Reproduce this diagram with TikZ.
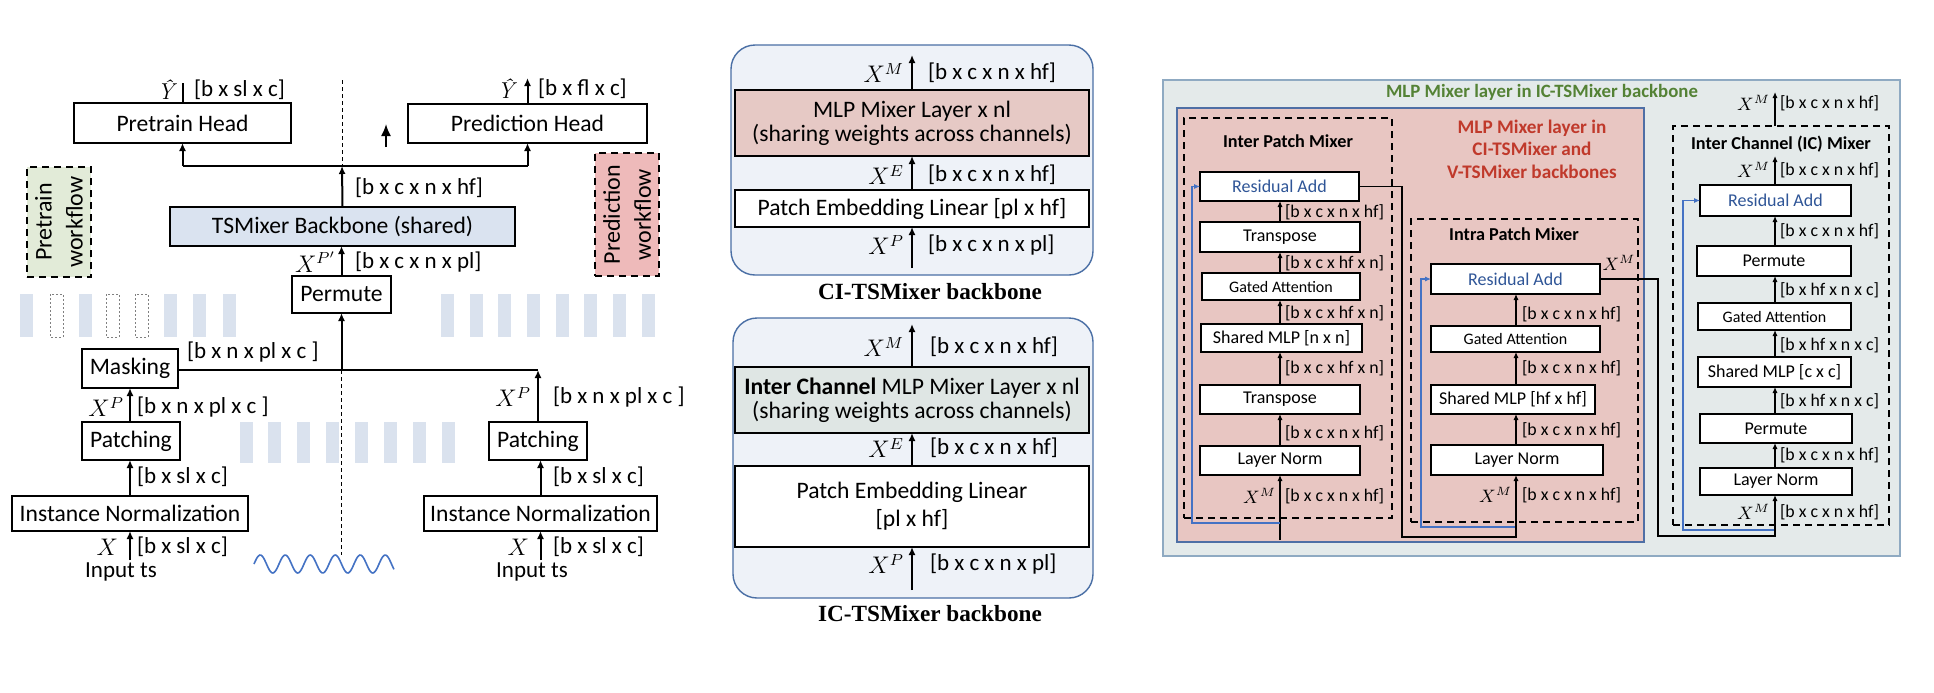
\documentclass[tikz,border=0pt]{standalone}
\usepackage{fontspec}
\setmainfont{Carlito}
\newfontfamily\capfont{Liberation Serif}
\newfontfamily\lmfont{Latin Modern Roman}
\usetikzlibrary{arrows.meta}
\definecolor{stripe}{HTML}{DAE2EE}
\definecolor{bbfill}{HTML}{DAE3F0}
\definecolor{pwgreen}{HTML}{E2EBD8}
\definecolor{pwpink}{HTML}{EEBABA}
\definecolor{cifill}{HTML}{EEF2F8}
\definecolor{ciedge}{HTML}{4A6FA5}
\definecolor{mlpfill}{HTML}{E6C9C5}
\definecolor{icfill}{HTML}{DFE6E4}
\definecolor{outerfill}{HTML}{E4EAEA}
\definecolor{outeredge}{HTML}{8FAAC2}
\definecolor{pinkfill}{HTML}{E8C6C2}
\definecolor{pinkedge}{HTML}{4F6FA5}
\definecolor{resblue}{HTML}{2F5597}
\definecolor{skipblue}{HTML}{4472C4}
\definecolor{titlegreen}{HTML}{548235}
\definecolor{titlered}{HTML}{C0392B}
\newcommand\bx[7][]{\node[#1, minimum width={(#5-#3)*0.5pt}, minimum height={(#6-#4)*0.5pt}] (#2) at ({(#3+#5)/2},{(#4+#6)/2}) {#7};}
\tikzset{
  base/.style={inner sep=0pt, outer sep=0pt},
  lbox/.style={base, draw, line width=1.2pt, fill=white, align=center, font=\fontsize{11.8}{12}\selectfont},
  rbox/.style={base, draw, line width=0.9pt, fill=white, font=\fontsize{9}{10}\selectfont},
  ga/.style={rbox, font=\fontsize{8}{9}\selectfont},
  ra/.style={rbox, text=resblue},
  larr/.style={line width=1pt, -{Latex[length=4pt,width=3.5pt]}},
  lline/.style={line width=1pt},
  rarr/.style={line width=0.7pt, -{Latex[length=3pt,width=2.6pt]}},
  rline/.style={line width=0.7pt},
  skip/.style={line width=0.8pt, draw=skipblue, -{Latex[length=3pt,width=2.6pt]}},
  llab/.style={base, anchor=west, font=\fontsize{11.5}{13}\selectfont},
  lmath/.style={base, anchor=east, font=\fontsize{11.5}{13}\selectfont},
  rlab/.style={base, anchor=west, font=\fontsize{8.9}{10}\selectfont},
  rmath/.style={base, anchor=east, font=\fontsize{8.9}{10}\selectfont},
  dbox/.style={base, draw, dashed, dash pattern=on 3.5pt off 2.5pt, line width=1.3pt},
  rdbox/.style={base, draw, dashed, dash pattern=on 3.5pt off 2.5pt, line width=1pt},
  thindash/.style={line width=0.5pt, dashed, dash pattern=on 2pt off 1.5pt},
  emptybar/.style={draw=gray, dashed, dash pattern=on 1pt off 1pt, line width=0.4pt},
  wftext/.style={base, rotate=90, align=center, font=\fontsize{12}{15.5}\selectfont},
  cibox/.style={base, draw=ciedge, fill=cifill, line width=0.7pt, rounded corners=12pt},
  capstyle/.style={base, font=\capfont\bfseries\fontsize{11.6}{13}\selectfont},
  mixtitle/.style={base, font=\bfseries\fontsize{9.1}{10}\selectfont},
}
\begin{document}
\begin{tikzpicture}[x=0.5pt,y=-0.5pt]
\useasboundingbox (0,0) rectangle (1934,692);
\fill[white] (0,0) rectangle (1934,692);

% ================= LEFT PANEL =================
\foreach \xx in {20,79,164,193,223} \fill[stripe] (\xx,294) rectangle ++(13,43);
\foreach \xx in {50,106,135} \draw[emptybar] (\xx,294) rectangle ++(13,43);
\foreach \xx in {441,470,498,527,556,584,613,642} \fill[stripe] (\xx,294) rectangle ++(13,43);
\foreach \xx in {240,268,297,326,355,384,413,442} \fill[stripe] (\xx,422) rectangle ++(13,41);

\bx[dbox, fill=pwgreen]{pwbox}{27}{167}{91}{277}{}
\node[wftext] (pwtxt) at (pwbox.center) {Pretrain\\workflow};
\bx[dbox, fill=pwpink]{prwbox}{595}{153}{659}{276}{}
\node[wftext] (prwtxt) at (prwbox.center) {Prediction\\workflow};

\bx[lbox]{ph}{74}{103}{291}{143}{Pretrain Head}
\bx[lbox]{prh}{408}{104}{647}{143}{Prediction Head}
\bx[lbox, fill=bbfill]{bb}{170}{207}{515}{246}{TSMixer Backbone (shared)}
\bx[lbox]{perm}{292}{276}{391}{313}{Permute}
\bx[lbox]{mask}{82}{349}{178}{388}{Masking}
\bx[lbox]{patL}{82}{422}{180}{460}{Patching}
\bx[lbox]{patR}{489}{422}{587}{460}{Patching}
\bx[lbox]{inL}{12}{496}{248}{531}{Instance Normalization}
\bx[lbox]{inR}{424}{496}{657}{531}{Instance Normalization}

\coordinate (j1) at (342,166);
\coordinate (dtop) at (342,80);
\coordinate (phout) at (182.5,83);
\coordinate (prhout) at (527.5,78);
\draw[thindash] (dtop) -- (j1);
\draw[larr] (bb.north) -- (j1);
\draw[lline] (ph.south |- j1) -- (prh.south |- j1);
\draw[larr] (ph.south |- j1) -- (ph.south);
\draw[larr] (prh.south |- j1) -- (prh.south);
\draw[lline] (ph.north) -- (phout);
\draw[larr] (prh.north) -- (prhout);
\coordinate (sa1) at (386,147);
\coordinate (sa2) at (386,124);
\draw[line width=0.9pt, -{Latex[length=6pt,width=5pt]}] (sa1) -- (sa2);

\draw[larr] (perm.north) -- (bb.south -| perm.north);
\coordinate (j2) at (341.5,370);
\coordinate (dbot) at (341.5,555);
\draw[thindash] (j2) -- (dbot);
\draw[lline] (mask.east |- j2) -- (patR.north |- j2);
\draw[larr] (j2) -- (perm.south);
\draw[larr] (patR.north) -- (patR.north |- j2);
\draw[larr] (patL.north -| mask.south) -- (mask.south);
\draw[larr] (inL.north) -- (inL.north |- patL.south);
\draw[larr] (inR.north) -- (inR.north |- patR.south);
\coordinate (inLin) at (130,560);
\coordinate (inRin) at (540.5,560);
\draw[larr] (inLin) -- (inL.south);
\draw[larr] (inRin) -- (inR.south);

\node[lmath] (lyh) at (174,90) {\lmfont\itshape Ŷ};
\node[llab] (lphd) at (194,90) {[b x sl x c]};
\node[lmath] (lyh2) at (514,89) {\lmfont\itshape Ŷ};
\node[llab] (lprd) at (538,89) {[b x fl x c]};
\node[llab] (lbb) at (355,188) {[b x c x n x hf]};
\node[lmath] (lxpp) at (336,262) {$X^{P'}$};
\node[llab] (lperm) at (355,262) {[b x c x n x pl]};
\node[llab] (lmask) at (187,352) {[b x n x pl x c ]};
\node[lmath] (lxp1) at (124,407) {$X^P$};
\node[llab] (lpat1) at (137,407) {[b x n x pl x c ]};
\node[llab] (lin1) at (137,477) {[b x sl x c]};
\node[lmath] (lxp2) at (531,397) {$X^P$};
\node[llab] (lpat2) at (553,397) {[b x n x pl x c ]};
\node[llab] (lin2) at (553,477) {[b x sl x c]};
\node[lmath] (lx1) at (118,547) {$X$};
\node[llab] (lxs1) at (137,547) {[b x sl x c]};
\node[lmath] (lx2) at (529,547) {$X$};
\node[llab] (lxs2) at (553,547) {[b x sl x c]};
\node[base, font=\fontsize{11.5}{13}\selectfont] (its1) at (121,572) {Input ts};
\node[base, font=\fontsize{11.5}{13}\selectfont] (its2) at (532,572) {Input ts};

\draw[skipblue, line width=0.8pt] plot[domain=0:140, samples=120] ({254+\x},{564-9*sin(\x*14.4)});

% ================= MIDDLE PANEL =================
\bx[cibox]{cib}{731}{45}{1093}{275}{}
\bx[lbox, fill=mlpfill]{mlp}{735}{90}{1089}{156}{MLP Mixer Layer x nl\\(sharing weights across channels)}
\bx[lbox]{pe1}{735}{190}{1089}{227}{Patch Embedding Linear [pl x hf]}
\coordinate (pe1in) at (912,268);
\draw[larr] (mlp.north) -- ++(0,-35);
\draw[larr] (pe1.north) -- (mlp.south);
\draw[larr] (pe1in) -- (pe1.south);
\node[lmath] (mxm1) at (904,73) {$X^M$};
\node[llab] (mlm1) at (928,73) {[b x c x n x hf]};
\node[lmath] (mxe1) at (904,175) {$X^E$};
\node[llab] (mle1) at (928,175) {[b x c x n x hf]};
\node[lmath] (mxp1) at (904,245) {$X^P$};
\node[llab] (mlp1) at (928,245) {[b x c x n x pl]};
\node[capstyle] (cicap) at (930,292) {CI-TSMixer backbone};

\bx[cibox]{icb}{733}{318}{1093}{598}{}
\bx[lbox, fill=icfill]{icml}{735}{367}{1089}{433}{\textbf{Inter Channel} MLP Mixer Layer x nl\\(sharing weights across channels)}
\bx[lbox, font=\fontsize{11.8}{14}\selectfont]{pe2}{735}{466}{1089}{547}{Patch Embedding Linear\\{}[pl x hf]}
\coordinate (pe2in) at (912,590);
\draw[larr] (icml.north) -- ++(0,-43);
\draw[larr] (pe2.north) -- (icml.south);
\draw[larr] (pe2in) -- (pe2.south);
\node[lmath] (mxm2) at (904,347) {$X^M$};
\node[llab] (mlm2) at (930,347) {[b x c x n x hf]};
\node[lmath] (mxe2) at (904,448) {$X^E$};
\node[llab] (mle2) at (930,448) {[b x c x n x hf]};
\node[lmath] (mxp2) at (904,564) {$X^P$};
\node[llab] (mlp2) at (930,564) {[b x c x n x pl]};
\node[capstyle] (iccap) at (930,614) {IC-TSMixer backbone};

% ================= RIGHT PANEL =================
\bx[base, draw=outeredge, fill=outerfill, line width=0.6pt]{outer}{1163}{80}{1900}{556}{}
\node[base, text=titlegreen, font=\bfseries\fontsize{9.4}{10}\selectfont] (gt) at (1542,92) {MLP Mixer layer in IC-TSMixer backbone};
\bx[base, draw=pinkedge, fill=pinkfill, line width=0.6pt]{pink}{1177}{108}{1644}{542}{}
\node[base, text=titlered, align=center, font=\bfseries\fontsize{9.6}{11.2}\selectfont] (rt) at (1532,149) {MLP Mixer layer in\\CI-TSMixer and\\V-TSMixer backbones};

% Inter Patch Mixer
\bx[rdbox]{ipm}{1184}{118}{1392}{518}{}
\node[mixtitle] (ipmt) at (1288,141) {Inter Patch Mixer};
\bx[ra]{ipRA}{1200}{172}{1359}{201}{Residual Add}
\bx[rbox]{ipT1}{1200}{222}{1360}{252}{Transpose}
\bx[ga]{ipGA}{1202}{273}{1360}{300}{Gated Attention}
\bx[rbox]{ipMLP}{1201}{324}{1362}{352}{Shared MLP [n x n]}
\bx[rbox]{ipT2}{1200}{385}{1360}{414}{Transpose}
\bx[rbox]{ipLN}{1200}{446}{1360}{475}{Layer Norm}
\coordinate (ipc) at (1280,0);
\draw[rarr] (ipc |- ipT1.north) -- (ipc |- ipRA.south);
\draw[rarr] (ipc |- ipGA.north) -- (ipc |- ipT1.south);
\draw[rarr] (ipc |- ipMLP.north) -- (ipc |- ipGA.south);
\draw[rarr] (ipc |- ipT2.north) -- (ipc |- ipMLP.south);
\draw[rarr] (ipc |- ipLN.north) -- (ipc |- ipT2.south);
\node[rlab] (ipl1) at (1285,212) {[b x c x n x hf]};
\node[rlab] (ipl2) at (1285,263) {[b x c x hf x n]};
\node[rlab] (ipl3) at (1285,313) {[b x c x hf x n]};
\node[rlab] (ipl4) at (1285,368) {[b x c x hf x n]};
\node[rlab] (ipl5) at (1285,433) {[b x c x n x hf]};
\node[rmath] (ipxm) at (1276,496) {$X^M$};
\node[rlab] (ipl6) at (1285,496) {[b x c x n x hf]};
\coordinate (ipIn) at (1280,540);
\draw[rarr] (ipIn) -- (ipLN.south);
\coordinate (ipSk) at (1280,523);
\coordinate (ipSkL) at (1192,523);
\draw[skip] (ipSk) -- (ipSkL) |- (ipRA.west);

% Intra Patch Mixer
\bx[rdbox]{iam}{1411}{219}{1638}{522}{}
\node[mixtitle] (iamt) at (1514,234) {Intra Patch Mixer};
\bx[ra]{iaRA}{1431}{264}{1600}{294}{Residual Add}
\bx[ga]{iaGA}{1431}{326}{1600}{352}{Gated Attention}
\bx[rbox]{iaMLP}{1431}{385}{1595}{414}{Shared MLP [hf x hf]}
\bx[rbox]{iaLN}{1431}{445}{1603}{475}{Layer Norm}
\coordinate (iac) at (1516,0);
\draw[rarr] (iac |- iaGA.north) -- (iac |- iaRA.south);
\draw[rarr] (iac |- iaMLP.north) -- (iac |- iaGA.south);
\draw[rarr] (iac |- iaLN.north) -- (iac |- iaMLP.south);
\node[rlab] (ial1) at (1522,314) {[b x c x n x hf]};
\node[rlab] (ial2) at (1522,368) {[b x c x n x hf]};
\node[rlab] (ial3) at (1522,430) {[b x c x n x hf]};
\node[rmath] (iaxm) at (1512,495) {$X^M$};
\node[rlab] (ial4) at (1522,495) {[b x c x n x hf]};
\node[base, font=\fontsize{8.9}{10}\selectfont] (iaxo) at (1619,263) {$X^M$};
\coordinate (iaSk) at (1516,527);
\coordinate (iaSkL) at (1421,527);
\draw[skip] (iaSk) -- (iaSkL) |- (iaRA.west);
\coordinate (ipOutB) at (1402,537);
\draw[rarr] (ipRA.east) -| (ipOutB) -| (iac |- iaLN.south);

% Inter Channel Mixer
\bx[rdbox]{icx}{1673}{126}{1889}{525}{}
\node[mixtitle] (icxt) at (1781,144) {Inter Channel (IC) Mixer};
\bx[ra]{icRA}{1700}{185}{1851}{216}{Residual Add}
\bx[rbox]{icP1}{1697}{246}{1851}{276}{Permute}
\bx[ga]{icGA}{1698}{303}{1851}{330}{Gated Attention}
\bx[rbox]{icMLP}{1698}{357}{1851}{387}{Shared MLP [c x c]}
\bx[rbox]{icP2}{1700}{414}{1852}{443}{Permute}
\bx[rbox]{icLN}{1700}{468}{1852}{495}{Layer Norm}
\coordinate (icc) at (1775,0);
\draw[rarr] (icc |- icx.north) -- ++(0,-34);
\draw[rarr] (icc |- icRA.north) -- ++(0,-29);
\draw[rarr] (icc |- icP1.north) -- (icc |- icRA.south);
\draw[rarr] (icc |- icGA.north) -- (icc |- icP1.south);
\draw[rarr] (icc |- icMLP.north) -- (icc |- icGA.south);
\draw[rarr] (icc |- icP2.north) -- (icc |- icMLP.south);
\draw[rarr] (icc |- icLN.north) -- (icc |- icP2.south);
\node[rmath] (icxm0) at (1770,103) {$X^M$};
\node[rlab] (icl0) at (1780,103) {[b x c x n x hf]};
\node[rmath] (icxm1) at (1770,170) {$X^M$};
\node[rlab] (icl1) at (1780,170) {[b x c x n x hf]};
\node[rlab] (icl2) at (1780,231) {[b x c x n x hf]};
\node[rlab] (icl3) at (1780,290) {[b x hf x n x c]};
\node[rlab] (icl4) at (1780,345) {[b x hf x n x c]};
\node[rlab] (icl5) at (1780,401) {[b x hf x n x c]};
\node[rlab] (icl6) at (1780,455) {[b x c x n x hf]};
\node[rmath] (icxm2) at (1770,512) {$X^M$};
\node[rlab] (icl7) at (1780,512) {[b x c x n x hf]};
\coordinate (icSk) at (1775,530);
\coordinate (icSkL) at (1683,530);
\draw[skip] (icSk) -- (icSkL) |- (icRA.west);
\coordinate (iaOutB) at (1658,536);
\draw[rarr] (iaRA.east) -| (iaOutB) -| (icc |- icLN.south);
\end{tikzpicture}
\end{document}
